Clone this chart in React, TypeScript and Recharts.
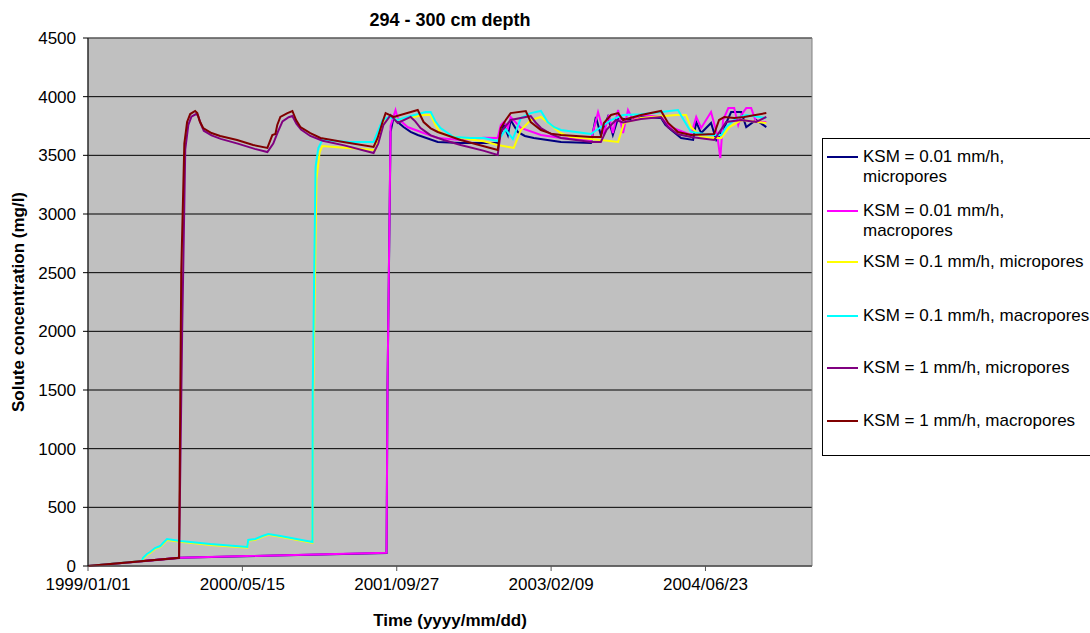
import React from "react";
import {
  CartesianGrid,
  Line,
  LineChart,
  ReferenceArea,
  XAxis,
  YAxis,
} from "recharts";

// days since 1999/01/01, solute concentration (mg/l)
const ksm001Micro: [number, number][] = [
  [0, 0], [295, 71], [967, 111], [970, 1500], [980, 3700], [990, 3827],
  [1005, 3780], [1022, 3741], [1045, 3700], [1068, 3673], [1133, 3614],
  [1207, 3605], [1327, 3605], [1347, 3759], [1360, 3673], [1369, 3801],
  [1392, 3699], [1415, 3665], [1444, 3648], [1532, 3614], [1629, 3605],
  [1645, 3827], [1661, 3673], [1684, 3827], [1700, 3673], [1717, 3818],
  [1759, 3801], [1791, 3827], [1856, 3818], [1870, 3760], [1889, 3716],
  [1921, 3648], [1960, 3631], [1970, 3784], [1986, 3690], [2018, 3776],
  [2035, 3631], [2057, 3716], [2083, 3869], [2116, 3869], [2132, 3741],
  [2164, 3801], [2197, 3741],
];

const ksm001Macro: [number, number][] = [
  [0, 0], [295, 71], [967, 113], [970, 1500], [980, 3750], [996, 3886],
  [1003, 3818], [1035, 3741], [1087, 3690], [1133, 3648], [1207, 3631],
  [1282, 3650], [1327, 3648], [1337, 3759], [1347, 3784], [1360, 3733],
  [1369, 3827], [1402, 3733], [1467, 3673], [1532, 3648], [1629, 3631],
  [1652, 3869], [1671, 3690], [1687, 3844], [1700, 3690], [1717, 3886],
  [1733, 3690], [1749, 3886], [1765, 3801], [1791, 3844], [1856, 3827],
  [1870, 3780], [1889, 3741], [1953, 3673], [1970, 3827], [1986, 3733],
  [2018, 3869], [2038, 3673], [2048, 3477], [2057, 3801], [2074, 3903],
  [2093, 3903], [2106, 3759], [2116, 3844], [2132, 3903], [2148, 3903],
  [2164, 3784], [2197, 3784],
];

const ksm01Micro: [number, number][] = [
  [0, 0], [175, 42], [178, 60], [191, 95], [201, 112], [217, 146],
  [234, 163], [243, 188], [256, 222], [299, 206], [396, 180], [516, 156],
  [519, 215], [542, 223], [565, 249], [584, 266], [623, 249], [727, 198],
  [729, 1400], [740, 3300], [750, 3520], [759, 3580], [850, 3560],
  [931, 3545], [957, 3801], [980, 3827], [1006, 3801], [1087, 3844],
  [1110, 3844], [1125, 3760], [1142, 3690], [1170, 3665], [1207, 3648],
  [1282, 3620], [1327, 3588], [1379, 3563], [1402, 3716], [1434, 3801],
  [1467, 3827], [1499, 3759], [1530, 3690], [1564, 3656], [1661, 3631],
  [1717, 3614], [1736, 3776], [1791, 3818], [1905, 3844], [1937, 3844],
  [1953, 3741], [1986, 3656], [2028, 3648], [2051, 3648], [2077, 3741],
  [2116, 3801], [2197, 3776],
];

const ksm01Macro: [number, number][] = [
  [0, 0], [175, 42], [178, 68], [191, 102], [201, 119], [217, 153],
  [234, 170], [243, 196], [256, 230], [299, 213], [396, 187], [516, 162],
  [519, 222], [542, 230], [565, 256], [584, 273], [623, 256], [727, 205],
  [728, 1500], [737, 3400], [746, 3563], [759, 3631], [850, 3614],
  [925, 3614], [954, 3801], [974, 3827], [1003, 3801], [1045, 3835],
  [1094, 3869], [1110, 3869], [1125, 3790], [1142, 3733], [1184, 3656],
  [1240, 3648], [1282, 3648], [1327, 3622], [1353, 3720], [1376, 3639],
  [1402, 3818], [1434, 3860], [1467, 3878], [1489, 3784], [1510, 3740],
  [1532, 3716], [1629, 3682], [1694, 3801], [1733, 3844], [1791, 3850],
  [1856, 3870], [1911, 3886], [1930, 3800], [1953, 3700], [2018, 3673],
  [2051, 3673], [2067, 3741], [2100, 3818], [2132, 3844], [2197, 3818],
];

const ksm1Micro: [number, number][] = [
  [0, 0], [295, 68], [305, 2000], [315, 3550], [325, 3760], [335, 3830],
  [350, 3852], [356, 3840], [365, 3770], [375, 3710], [400, 3670],
  [430, 3640], [485, 3600], [540, 3555], [581, 3528], [600, 3600],
  [615, 3700], [630, 3790], [650, 3825], [662, 3835], [675, 3770],
  [690, 3720], [720, 3665], [760, 3625], [830, 3585], [925, 3520],
  [940, 3600], [957, 3760], [980, 3843], [1003, 3776], [1045, 3827],
  [1060, 3790], [1077, 3733], [1110, 3670], [1152, 3631], [1207, 3588],
  [1280, 3540], [1327, 3503], [1337, 3699], [1369, 3801], [1418, 3827],
  [1434, 3835], [1450, 3780], [1467, 3733], [1500, 3680], [1532, 3648],
  [1629, 3614], [1661, 3614], [1680, 3720], [1710, 3801], [1733, 3780],
  [1791, 3810], [1856, 3827], [1879, 3740], [1911, 3680], [1953, 3656],
  [2028, 3631], [2067, 3784], [2116, 3801], [2164, 3784], [2197, 3827],
];

const ksm1Macro: [number, number][] = [
  [0, 0], [295, 70], [302, 2500], [312, 3600], [321, 3784], [331, 3852],
  [347, 3878], [354, 3860], [362, 3790], [373, 3733], [400, 3690],
  [428, 3665], [483, 3631], [535, 3588], [581, 3563], [597, 3673],
  [607, 3682], [613, 3759], [623, 3827], [646, 3860], [662, 3878],
  [674, 3800], [688, 3741], [720, 3690], [753, 3648], [827, 3614],
  [925, 3571], [938, 3648], [954, 3784], [964, 3860], [990, 3827],
  [1068, 3886], [1087, 3784], [1110, 3730], [1133, 3699], [1207, 3631],
  [1327, 3545], [1337, 3733], [1353, 3801], [1369, 3860], [1418, 3878],
  [1434, 3784], [1467, 3716], [1500, 3685], [1532, 3673], [1629, 3656],
  [1661, 3656], [1671, 3776], [1694, 3844], [1717, 3860], [1733, 3801],
  [1791, 3844], [1856, 3878], [1879, 3776], [1911, 3699], [1953, 3673],
  [2028, 3682], [2044, 3801], [2061, 3827], [2093, 3818], [2125, 3827],
  [2197, 3860],
];

const xTicks = [0, 500, 1000, 1500, 2000];
const yTicks = [0, 500, 1000, 1500, 2000, 2500, 3000, 3500, 4000, 4500];

const series = [
  { name: ["KSM = 0.01 mm/h,", "micropores"], color: "#000080", data: ksm001Micro, y: 157 },
  { name: ["KSM = 0.01 mm/h,", "macropores"], color: "#FF00FF", data: ksm001Macro, y: 211 },
  { name: ["KSM = 0.1 mm/h, micropores"], color: "#FFFF00", data: ksm01Micro, y: 262 },
  { name: ["KSM = 0.1 mm/h, macropores"], color: "#00FFFF", data: ksm01Macro, y: 316 },
  { name: ["KSM = 1 mm/h, micropores"], color: "#800080", data: ksm1Micro, y: 368 },
  { name: ["KSM = 1 mm/h, macropores"], color: "#800000", data: ksm1Macro, y: 421 },
];

const START = Date.UTC(1999, 0, 1);
const pad = (n: number) => String(n).padStart(2, "0");
const formatDay = (d: number) => {
  const t = new Date(START + d * 86400000);
  return `${t.getUTCFullYear()}/${pad(t.getUTCMonth() + 1)}/${pad(t.getUTCDate())}`;
};

const font = "'Liberation Sans', Arial, sans-serif";
const tickStyle = { fontSize: 17, fill: "#000", fontFamily: font };

export default function App() {
  return (
    <div
      style={{
        position: "absolute",
        left: 0,
        top: 0,
        width: 1090,
        height: 633,
        overflow: "hidden",
        background: "#fff",
        fontFamily: font,
      }}
    >
      <div
        style={{
          position: "absolute",
          left: 0,
          width: 900,
          top: 9,
          textAlign: "center",
          fontWeight: "bold",
          fontSize: 18,
          lineHeight: "22px",
        }}
      >
        294 - 300 cm depth
      </div>

      <LineChart
        width={1090}
        height={633}
        margin={{ top: 38, right: 278, bottom: 0, left: 0 }}
      >
        <CartesianGrid
          vertical={false}
          stroke="#000"
          fill="#C0C0C0"
          fillOpacity={1}
        />
        <XAxis
          dataKey="day"
          type="number"
          domain={[0, 2345]}
          ticks={xTicks}
          tickFormatter={formatDay}
          height={67}
          tickSize={5}
          tickMargin={7}
          tick={tickStyle}
          stroke="#555"
          allowDataOverflow
        />
        <YAxis
          dataKey="value"
          type="number"
          domain={[0, 4500]}
          ticks={yTicks}
          width={88}
          tickSize={5}
          tickMargin={7}
          tick={tickStyle}
          stroke="#000"
        />
        <ReferenceArea
          x1={0}
          x2={2345}
          y1={0}
          y2={4500}
          fill="none"
          stroke="#808080"
          strokeWidth={1}
        />
        {series.map((s) => (
          <Line
            key={s.name.join(" ")}
            data={s.data.map(([day, value]) => ({ day, value }))}
            dataKey="value"
            type="linear"
            stroke={s.color}
            strokeWidth={2}
            dot={false}
            isAnimationActive={false}
          />
        ))}
      </LineChart>

      <div
        style={{
          position: "absolute",
          left: 0,
          width: 900,
          top: 610,
          textAlign: "center",
          fontWeight: "bold",
          fontSize: 17,
          lineHeight: "22px",
        }}
      >
        Time (yyyy/mm/dd)
      </div>
      <div
        style={{
          position: "absolute",
          left: 19,
          top: 302,
          transform: "translate(-50%, -50%) rotate(-90deg)",
          whiteSpace: "nowrap",
          fontWeight: "bold",
          fontSize: 17,
          lineHeight: "22px",
        }}
      >
        Solute concentration (mg/l)
      </div>

      <div
        style={{
          position: "absolute",
          left: 822,
          top: 138,
          width: 300,
          height: 316,
          border: "1px solid #000",
          background: "#fff",
        }}
      >
        {series.map((s) => (
          <div key={s.name.join(" ")}>
            <div
              style={{
                position: "absolute",
                left: 4,
                top: s.y - 139 - 1,
                width: 31,
                height: 2,
                background: s.color,
              }}
            />
            <div
              style={{
                position: "absolute",
                left: 40,
                top: s.y - 139 - 10,
                fontSize: 17,
                lineHeight: "20px",
                whiteSpace: "nowrap",
              }}
            >
              {s.name.map((line) => (
                <div key={line}>{line}</div>
              ))}
            </div>
          </div>
        ))}
      </div>
    </div>
  );
}
